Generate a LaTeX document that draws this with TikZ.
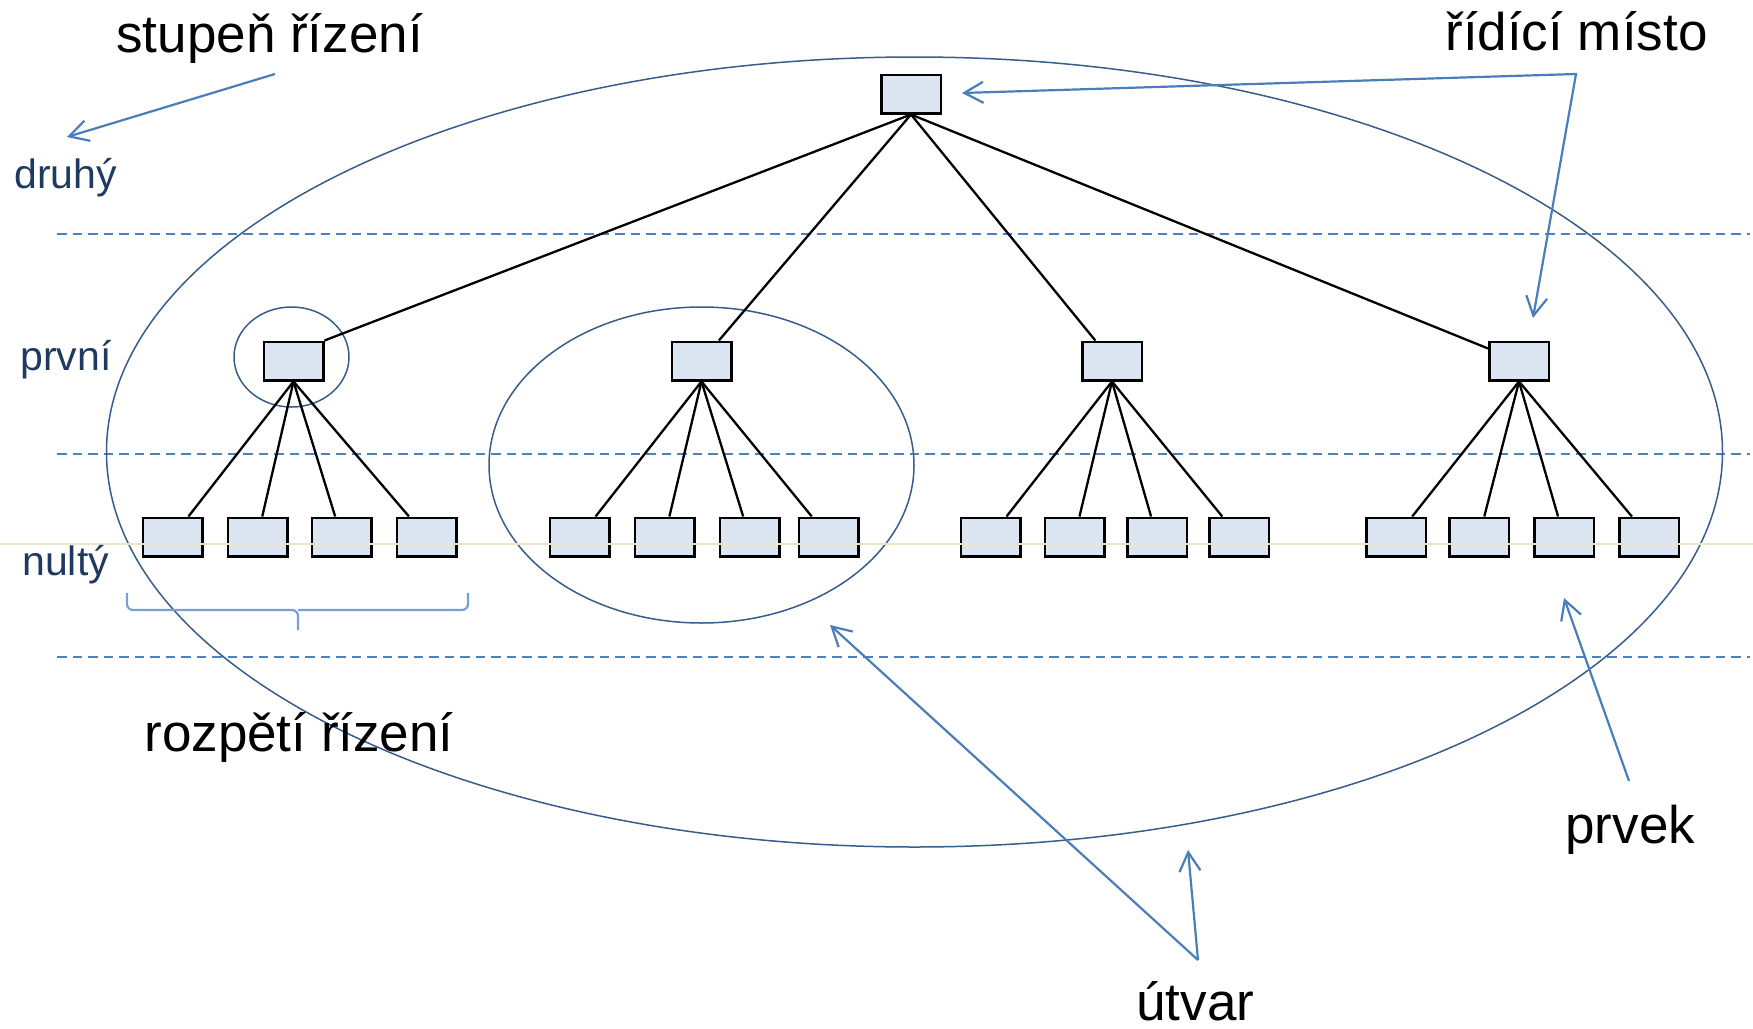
\documentclass[tikz,border=0pt]{standalone}
\usepackage{fontspec}
\setmainfont{Liberation Sans}
\usetikzlibrary{arrows.meta}
\definecolor{boxfill}{RGB}{220,230,242}
\definecolor{arrowblue}{RGB}{74,126,187}
\definecolor{ellblue}{RGB}{56,93,138}
\definecolor{dashblue}{RGB}{79,129,189}
\definecolor{navy}{RGB}{31,58,96}
\definecolor{faint}{RGB}{236,230,200}
\definecolor{braceblue}{RGB}{120,158,214}
\tikzset{
  box/.style={draw, line width=1.25pt, fill=boxfill, inner sep=0pt,
    minimum width=29.75pt, minimum height=19.25pt},
  hranice/.style={draw=dashblue, line width=1.4pt, dash pattern=on 4.75pt off 3pt},
  utvar/.style={draw=ellblue, line width=0.75pt},
  sipka/.style={draw=arrowblue, line width=1.1pt, ->},
  zavorka/.style={draw=braceblue, line width=1.1pt, rounded corners=3pt},
  popis/.style={font=\fontsize{26.5}{30}\selectfont, inner sep=0pt, anchor=base west},
  stupen/.style={font=\fontsize{20.5}{24}\selectfont, text=navy, inner sep=0pt, anchor=base west}
}
\begin{document}
\begin{tikzpicture}[x=0.5pt, y=-0.5pt, >={Straight Barb[length=9.5pt, width=10.5pt]}]
  \useasboundingbox (0,0) rectangle (1753,1029);
  \draw[hranice] (57,234) -- (1750,234);
  \draw[hranice] (57,454) -- (1750,454);
  \draw[hranice] (57,657) -- (1750,657);
  \draw[utvar] (914.5,452) ellipse [x radius=404pt, y radius=197.5pt];
  \draw[utvar] (291.5,357) ellipse [x radius=28.75pt, y radius=25pt];
  \draw[utvar] (701.5,465) ellipse [x radius=106.25pt, y radius=79pt];
  \draw
    (911,94) node[box] (0){}
    (293.5,361) node[box] (1){}
    (701.5,361) node[box] (2){}
    (1112,361) node[box] (3){}
    (1519,361) node[box] (4){}
    (172.5,537) node[box] (11){}
    (257.5,537) node[box] (12){}
    (341.5,537) node[box] (13){}
    (426.5,537) node[box] (14){}
    (579.5,537) node[box] (21){}
    (664.5,537) node[box] (22){}
    (749.5,537) node[box] (23){}
    (828.5,537) node[box] (24){}
    (990.5,537) node[box] (31){}
    (1074.5,537) node[box] (32){}
    (1157,537) node[box] (33){}
    (1239,537) node[box] (34){}
    (1396,537) node[box] (41){}
    (1479,537) node[box] (42){}
    (1564,537) node[box] (43){}
    (1649,537) node[box] (44){};
  \begin{scope}[line width=1.15pt]
    \draw (0.south) to (1.north east);
    \draw (0.south) to (2);
    \draw (0.south) to (3);
    \draw (0.south) to (4);
    \draw (1.south) to (11);
    \draw (1.south) to (12);
    \draw (1.south) to (13);
    \draw (1.south) to (14);
    \draw (2.south) to (21);
    \draw (2.south) to (22);
    \draw (2.south) to (23);
    \draw (2.south) to (24);
    \draw (3.south) to (31);
    \draw (3.south) to (32);
    \draw (3.south) to (33);
    \draw (3.south) to (34);
    \draw (4.south) to (41);
    \draw (4.south) to (42);
    \draw (4.south) to (43);
    \draw (4.south) to (44);
  \end{scope}
  \draw[faint, line width=0.6pt] (0,544) -- (1753,544);
  \draw[zavorka] (127,593) -- (127,610) -- (298,610) -- (298,630)
    (298,610) -- (468,610) -- (468,593);
  \node[popis] (stupen) at (116,52) {stupeň řízení};
  \node[popis] (misto) at (1445,50) {řídící místo};
  \node[popis] (rozpeti) at (144,751) {rozpětí řízení};
  \node[popis] (prvek) at (1565,843) {prvek};
  \node[popis] (utvar) at (1136,1020) {útvar};
  \node[stupen] (druhy) at (14,188) {druhý};
  \node[stupen] (prvni) at (20,370) {první};
  \node[stupen] (nulty) at (22,575) {nultý};
  \coordinate (s0) at (275,74);
  \coordinate (s1) at (67,137);
  \coordinate (m0) at (1576,74);
  \coordinate (m1) at (962,93);
  \coordinate (m2) at (1533,318);
  \coordinate (p0) at (1629,781);
  \coordinate (p1) at (1564,598);
  \coordinate (u0) at (1198,960);
  \coordinate (u1) at (830,625);
  \coordinate (u2) at (1188,850);
  \draw[sipka] (s0) -- (s1);
  \draw[sipka, <->] (m1) -- (m0) -- (m2);
  \draw[sipka] (p0) -- (p1);
  \draw[sipka] (u0) -- (u1);
  \draw[sipka] (u0) -- (u2);
\end{tikzpicture}
\end{document}
